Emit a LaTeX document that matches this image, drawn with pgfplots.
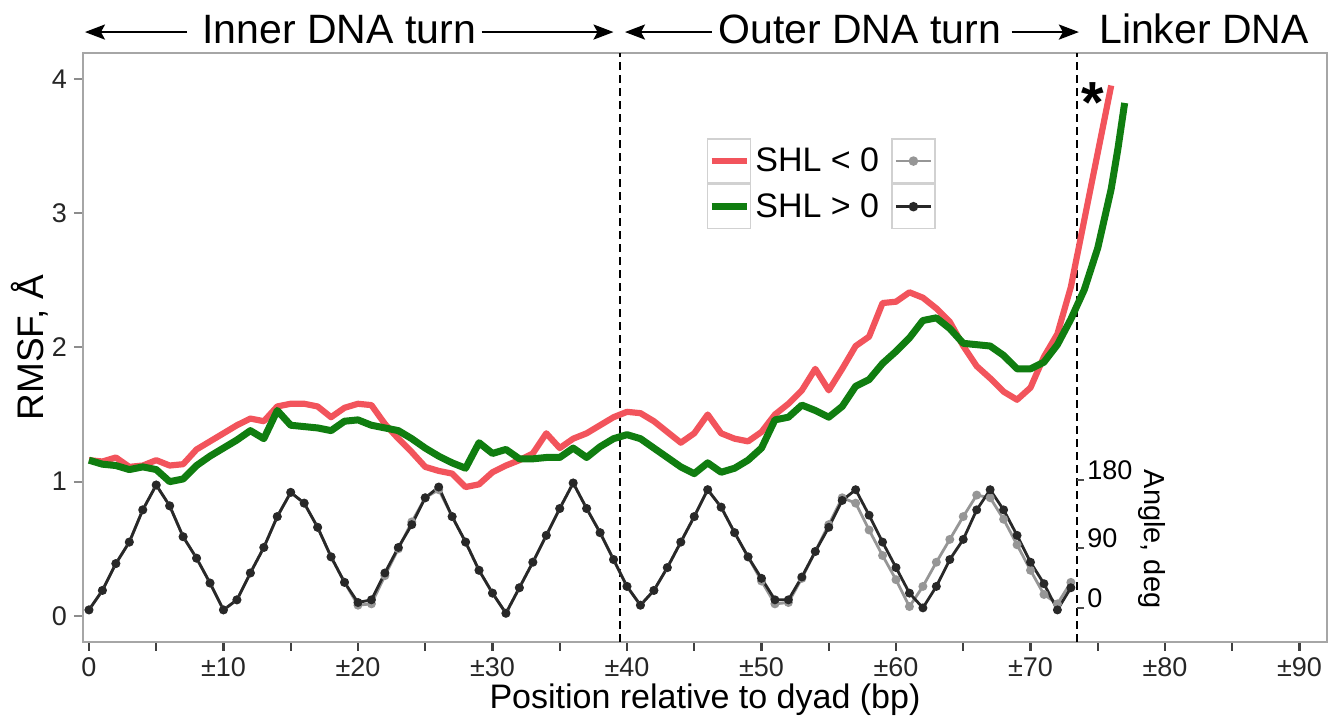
\documentclass[border=0pt]{standalone}
\usepackage{fontspec}
\setmainfont{Liberation Sans}
\usepackage{pgfplots}
\pgfplotsset{compat=1.18}
\usetikzlibrary{arrows.meta}

\definecolor{rmsfred}{RGB}{242,84,92}
\definecolor{rmsfgreen}{RGB}{16,125,16}
\definecolor{anggray}{RGB}{150,150,150}
\definecolor{angblack}{RGB}{40,40,40}

\pgfplotsset{
  keyline/.style={legend image code/.code={
     \draw[draw=black!18, line width=0.8pt, solid, fill=white] (0pt,-11pt) rectangle (21.5pt,11pt);
     \draw[##1] (2pt,0pt) -- (19.5pt,0pt);
  }},
  keymark/.style={legend image code/.code={
     \draw[draw=black!18, line width=0.8pt, solid, fill=white] (0pt,-11pt) rectangle (21.5pt,11pt);
     \draw[mark repeat=2, mark phase=2, ##1] plot coordinates {(2pt,0pt) (10.75pt,0pt) (19.5pt,0pt)};
  }},
}

\begin{document}
\begin{tikzpicture}
\begin{axis}[
  scale only axis, width=622pt, height=294.5pt,
  xmin=-0.446, xmax=92.04, ymin=-0.194, ymax=4.192,
  clip=false,
  axis line style={draw=black!35, line width=1.2pt},
  xtick={0,5,...,90},
  xticklabels={0,,{\textpm10},,{\textpm20},,{\textpm30},,{\textpm40},,{\textpm50},,{\textpm60},,{\textpm70},,{\textpm80},,{\textpm90}},
  ytick={0,1,2,3,4},
  tick align=outside, tick pos=left,
  major tick length=4.5pt,
  xtick style={draw=black!75, line width=1.1pt},
  ytick style={draw=black!45, line width=0.9pt},
  /pgf/number format/assume math mode=true,
  ticklabel style={font=\fontsize{13.5}{15}\selectfont, text=black!85},
  xlabel={Position relative to dyad (bp)},
  ylabel={RMSF, Å},
  every axis x label/.style={at={(rel axis cs:0.5,-0.1121)}, anchor=base, font=\fontsize{17}{19}\selectfont},
  every axis y label/.style={at={(rel axis cs:-0.0426,0.5)}, rotate=90, anchor=center, font=\fontsize{18.5}{20}\selectfont},
  legend columns=2,
  legend style={at={(axis cs:45.9,3.56)}, anchor=north west, draw=none, fill=none,
    inner sep=0pt, row sep=0pt, font=\fontsize{17}{19}\selectfont,
    nodes={inner sep=2pt},
    /tikz/every even column/.append style={column sep=4pt}},
]

% dashed separators
\addplot[black, line width=1pt, dash pattern=on 4pt off 2.5pt, forget plot] coordinates {(39.5,-0.194) (39.5,4.192)};
\addplot[black, line width=1pt, dash pattern=on 4pt off 2.5pt, forget plot] coordinates {(73.45,-0.194) (73.45,4.192)};

% angle, SHL < 0 (grey)
\addplot[anggray, line width=1.4pt, mark=*, mark size=1.5pt, forget plot] table {
x y
0 0.045
1 0.19
2 0.39
3 0.55
4 0.79
5 0.975
6 0.82
7 0.59
8 0.43
9 0.245
10 0.045
11 0.12
12 0.32
13 0.51
14 0.74
15 0.92
16 0.84
17 0.66
18 0.44
19 0.25
20 0.08
21 0.09
22 0.30
23 0.50
24 0.70
25 0.88
26 0.94
27 0.74
28 0.55
29 0.34
30 0.17
31 0.02
32 0.21
33 0.40
34 0.60
35 0.80
36 0.99
37 0.80
38 0.62
39 0.42
40 0.22
41 0.08
42 0.19
43 0.36
44 0.55
45 0.74
46 0.94
47 0.81
48 0.62
49 0.44
50 0.26
51 0.09
52 0.10
53 0.28
54 0.48
55 0.68
56 0.88
57 0.84
58 0.64
59 0.45
60 0.27
61 0.07
62 0.22
63 0.40
64 0.57
65 0.74
66 0.90
67 0.88
68 0.72
69 0.53
70 0.34
71 0.16
72 0.09
73 0.25
};

% angle, SHL > 0 (black)
\addplot[angblack, line width=1.4pt, mark=*, mark size=1.5pt, forget plot] table {
x y
0 0.045
1 0.19
2 0.39
3 0.55
4 0.79
5 0.975
6 0.82
7 0.59
8 0.43
9 0.245
10 0.045
11 0.12
12 0.32
13 0.51
14 0.74
15 0.92
16 0.84
17 0.66
18 0.44
19 0.25
20 0.10
21 0.12
22 0.32
23 0.51
24 0.68
25 0.88
26 0.96
27 0.74
28 0.55
29 0.34
30 0.17
31 0.02
32 0.21
33 0.40
34 0.60
35 0.80
36 0.99
37 0.80
38 0.62
39 0.42
40 0.22
41 0.08
42 0.19
43 0.36
44 0.55
45 0.74
46 0.94
47 0.81
48 0.62
49 0.44
50 0.28
51 0.12
52 0.12
53 0.29
54 0.48
55 0.66
56 0.86
57 0.94
58 0.75
59 0.55
60 0.36
61 0.17
62 0.06
63 0.22
64 0.42
65 0.57
66 0.79
67 0.94
68 0.79
69 0.60
70 0.40
71 0.24
72 0.045
73 0.21
};

% RMSF, SHL < 0 (red)
\addplot[rmsfred, line width=3.1pt, line join=round, forget plot] table {
x y
0 1.16
1 1.15
2 1.18
3 1.11
4 1.12
5 1.16
6 1.12
7 1.13
8 1.24
9 1.30
10 1.36
11 1.42
12 1.47
13 1.45
14 1.56
15 1.58
16 1.58
17 1.56
18 1.48
19 1.55
20 1.58
21 1.57
22 1.43
23 1.32
24 1.22
25 1.11
26 1.08
27 1.06
28 0.96
29 0.98
30 1.07
31 1.12
32 1.16
33 1.21
34 1.36
35 1.25
36 1.32
37 1.36
38 1.42
39 1.48
40 1.52
41 1.51
42 1.45
43 1.37
44 1.29
45 1.36
46 1.50
47 1.36
48 1.32
49 1.30
50 1.37
51 1.50
52 1.58
53 1.68
54 1.84
55 1.68
56 1.84
57 2.01
58 2.08
59 2.33
60 2.34
61 2.41
62 2.37
63 2.29
64 2.19
65 2.01
66 1.86
67 1.77
68 1.67
69 1.61
70 1.70
71 1.93
72 2.10
73 2.45
74 2.95
75 3.45
76 3.95
};

% RMSF, SHL > 0 (green)
\addplot[rmsfgreen, line width=3.5pt, line join=round, forget plot] table {
x y
0 1.16
1 1.13
2 1.12
3 1.09
4 1.11
5 1.09
6 1.00
7 1.02
8 1.12
9 1.19
10 1.25
11 1.31
12 1.38
13 1.32
14 1.53
15 1.42
16 1.41
17 1.40
18 1.38
19 1.45
20 1.46
21 1.42
22 1.40
23 1.38
24 1.32
25 1.25
26 1.19
27 1.14
28 1.10
29 1.29
30 1.21
31 1.24
32 1.17
33 1.17
34 1.18
35 1.18
36 1.25
37 1.18
38 1.26
39 1.32
40 1.35
41 1.32
42 1.25
43 1.18
44 1.11
45 1.06
46 1.14
47 1.07
48 1.10
49 1.16
50 1.25
51 1.46
52 1.48
53 1.57
54 1.53
55 1.48
56 1.56
57 1.71
58 1.76
59 1.88
60 1.97
61 2.07
62 2.20
63 2.22
64 2.14
65 2.03
66 2.02
67 2.01
68 1.94
69 1.84
70 1.84
71 1.89
72 2.02
73 2.21
74 2.43
75 2.74
76 3.18
76.5 3.48
77 3.82
};

% legend
\addlegendimage{keyline, rmsfred, line width=3.1pt}
\addlegendentry{SHL < 0}
\addlegendimage{keymark, anggray, line width=1.3pt, mark=*, mark size=1.7pt}
\addlegendentry{}
\addlegendimage{keyline, rmsfgreen, line width=3.5pt}
\addlegendentry{SHL > 0}
\addlegendimage{keymark, angblack, line width=1.3pt, mark=*, mark size=1.7pt}
\addlegendentry{}

% angle scale on the dashed line
\draw[black!70, line width=0.8pt] (axis cs:73.45,0.06) -- (axis cs:73.95,0.06);
\draw[black!70, line width=0.8pt] (axis cs:73.45,0.506) -- (axis cs:73.95,0.506);
\draw[black!70, line width=0.8pt] (axis cs:73.45,1.013) -- (axis cs:73.95,1.013);
\node[anchor=base west, inner sep=0pt, font=\fontsize{13.5}{15}\selectfont] at (axis cs:74.2,0.06) {0};
\node[anchor=base west, inner sep=0pt, font=\fontsize{13.5}{15}\selectfont] at (axis cs:74.2,0.506) {90};
\node[anchor=base west, inner sep=0pt, font=\fontsize{13.5}{15}\selectfont] at (axis cs:74.2,1.013) {180};
\node[rotate=-90, anchor=center, font=\fontsize{14.5}{16}\selectfont] at (axis cs:79.0,0.573) {Angle, deg};

% asterisk
\node[font=\fontsize{29}{29}\selectfont\bfseries, inner sep=0pt] at (axis cs:74.6,3.82) {*};

% top region labels
\draw[-{Stealth[length=10pt,width=7.5pt,inset=2pt]}, line width=1.3pt] (axis cs:7.3,4.348) -- (axis cs:-0.3,4.348);
\draw[-{Stealth[length=10pt,width=7.5pt,inset=2pt]}, line width=1.3pt] (axis cs:29.2,4.348) -- (axis cs:39.0,4.348);
\draw[-{Stealth[length=10pt,width=7.5pt,inset=2pt]}, line width=1.3pt] (axis cs:46.3,4.348) -- (axis cs:39.85,4.348);
\draw[-{Stealth[length=10pt,width=7.5pt,inset=2pt]}, line width=1.3pt] (axis cs:68.6,4.348) -- (axis cs:73.6,4.348);
\node[anchor=base, inner sep=0pt, font=\fontsize{20.5}{22}\selectfont] at (axis cs:18.6,4.266) {Inner DNA turn};
\node[anchor=base, inner sep=0pt, font=\fontsize{20.5}{22}\selectfont] at (axis cs:57.3,4.266) {Outer DNA turn};
\node[anchor=base, inner sep=0pt, font=\fontsize{20.5}{22}\selectfont] at (axis cs:82.9,4.266) {Linker DNA};

\coordinate (BL) at (rel axis cs:-0.0667,-0.1307);
\coordinate (TR) at (rel axis cs:1.0121,1.09);
\end{axis}
\pgfresetboundingbox
\path[use as bounding box] (BL) rectangle (TR);
\end{tikzpicture}
\end{document}
